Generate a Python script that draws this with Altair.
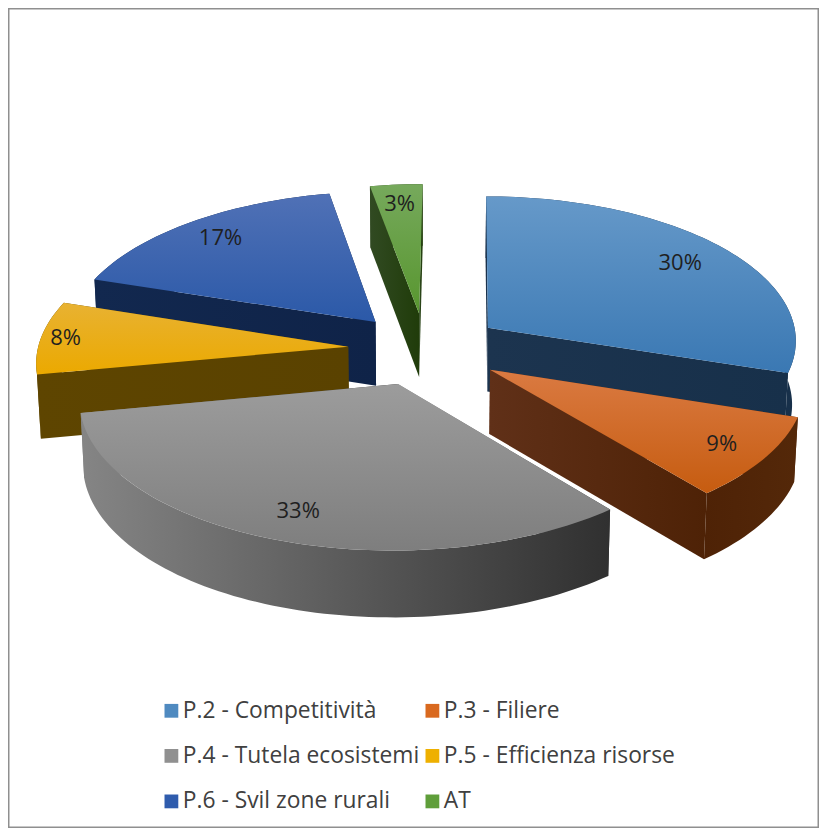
import math
import altair as alt

# ---- data
categories = ["P.2 - Competitività", "P.3 - Filiere", "P.4 - Tutela ecosistemi",
              "P.5 - Efficienza risorse", "P.6 - Svil zone rurali", "AT"]
shares = [30, 9, 33, 8, 17, 3]
legend_colors = ["#4f8ac0", "#d9691f", "#909090", "#eeb000", "#2f5cad", "#5f9e3a"]

# ---- styling
top_fill = [("#6699c9", "#3a78b3"), ("#da7a42", "#c65c10"), ("#9c9c9c", "#7e7e7e"),
            ("#e8b232", "#eba900"), ("#5071b6", "#2b59a8"), ("#76a95c", "#58962f")]
wall_fill = [("#1c344f", "#17304a"), ("#603018", "#4e2206"), ("#8c8c8c", "#2f2f2f"),
             ("#5e4500", "#5a4200"), ("#12284f", "#0f2348"), ("#314a22", "#203c0a")]
rim_fill = [("#1c344f", "#17304a"), ("#4e2206", "#542809"), ("#858585", "#303030"),
            ("#5e4500", "#5a4200"), ("#12284f", "#0f2348"), ("#314a22", "#203c0a")]
label_frac = [0.81, 0.85, 0.83, 0.92, 0.83, 0.84]

# ---- 3-D view of the pie (page pixels; the canvas starts at the 8px page margin)
ORIGIN = 8
CANVAS_W, CANVAS_H = 811, 820
FRAME = (8.75, 8.75, 818.25, 827.25)
CX, CY, RX, RY = 425.5, 349, 310.4, 146
EXPLODE, PERSP_X, PERSP_Y, SKEW, DEPTH = 0.25, 0.085, 0.085, 3, 64


def project(px, py, low=False):
    sx = RX * px / (1 + PERSP_X * py) + SKEW * py
    w = 1 / (1 + PERSP_Y * py)
    sy = -RY * py * w
    if low:
        sx *= 0.99
        sy += DEPTH * w ** 0.4
    return [CX + sx - ORIGIN, CY + sy - ORIGIN]


def polar(deg, r=1.0):
    a = math.radians(deg)
    return r * math.sin(a), r * math.cos(a)


def feature(points):
    return {"type": "Feature", "properties": {},
            "geometry": {"type": "Polygon", "coordinates": [points + [points[0]]]}}


def gradient(pair, vertical):
    return {"gradient": "linear", "x1": 0, "y1": 0,
            "x2": 0 if vertical else 1, "y2": 1 if vertical else 0,
            "stops": [{"offset": 0, "color": pair[0]}, {"offset": 1, "color": pair[1]}]}


def shape(points, fill):
    return alt.Chart(alt.Data(values=[feature(points)])).mark_geoshape(
        fill=fill, stroke=None, strokeWidth=0)


total = sum(shares)
slices, start = [], 0.0
for i, v in enumerate(shares):
    end = start + 360 * v / total
    mid = (start + end) / 2
    ax, ay = polar(mid, EXPLODE)
    steps = max(4, int((end - start) / 1.5))
    rim = [polar(start + (end - start) * k / steps) for k in range(steps + 1)]
    rim = [(ax + x, ay + y) for x, y in rim]
    lx, ly = polar(mid, label_frac[i])
    slices.append(dict(i=i, ax=ax, ay=ay, rim=rim, label=project(ax + lx, ay + ly)))
    start = end

fx0, fy0, fx1, fy1 = [c - ORIGIN for c in FRAME]
layers = [alt.Chart(alt.Data(values=[feature([[fx0, fy0], [fx1, fy0], [fx1, fy1], [fx0, fy1]])])).mark_geoshape(
    fill="white", stroke="#8f8f8f", strokeWidth=1.5)]

for s in sorted(slices, key=lambda d: -d["ay"]):
    i, ax, ay, rim = s["i"], s["ax"], s["ay"], s["rim"]
    walls = []
    for edge in (rim[0], rim[-1]):
        pts = [project(ax, ay), project(*edge), project(*edge, True), project(ax, ay, True)]
        walls.append(((ay + edge[1]) / 2, pts, wall_fill[i]))
    rim_pts = [project(*p) for p in rim] + [project(*p, True) for p in reversed(rim)]
    walls.append((sum(p[1] for p in rim) / len(rim), rim_pts, rim_fill[i]))
    for _, pts, pair in sorted(walls, key=lambda t: -t[0]):
        layers.append(shape(pts, gradient(pair, False)))
    layers.append(shape([project(ax, ay)] + [project(*p) for p in rim], gradient(top_fill[i], True)))

label_rows = [{"lon": s["label"][0], "lat": s["label"][1], "text": f"{shares[s['i']]}%"} for s in slices]
labels = alt.Chart(alt.Data(values=label_rows)).mark_text(
    font="Open Sans", fontSize=22, color="#1f1f1f", align="center", baseline="middle"
).encode(longitude="lon:Q", latitude="lat:Q", text="text:N")

legend_rows = [{"name": c, "lon": 400, "lat": 400} for c in categories]
legend = alt.Chart(alt.Data(values=legend_rows)).mark_square(size=0, opacity=0).encode(
    longitude="lon:Q", latitude="lat:Q",
    color=alt.Color("name:N",
                    scale=alt.Scale(domain=categories, range=legend_colors),
                    legend=alt.Legend(orient="none", legendX=152, legendY=691, title=None,
                                      columns=2, direction="horizontal", columnPadding=1, rowPadding=21.5,
                                      symbolType="square", symbolSize=190, symbolOpacity=1,
                                      symbolStrokeWidth=0, labelFont="Open Sans", labelFontSize=22.8,
                                      labelColor="#404040", labelOffset=0, labelLimit=400)))

chart = alt.layer(*layers, labels, legend).project(type="identity", scale=1, translate=[0, 0]).properties(
    width=CANVAS_W, height=CANVAS_H, padding=0, background="white", autosize="none"
).configure_view(stroke=None)

chart.save("out.html", embed_options={"renderer": "svg", "actions": False})
